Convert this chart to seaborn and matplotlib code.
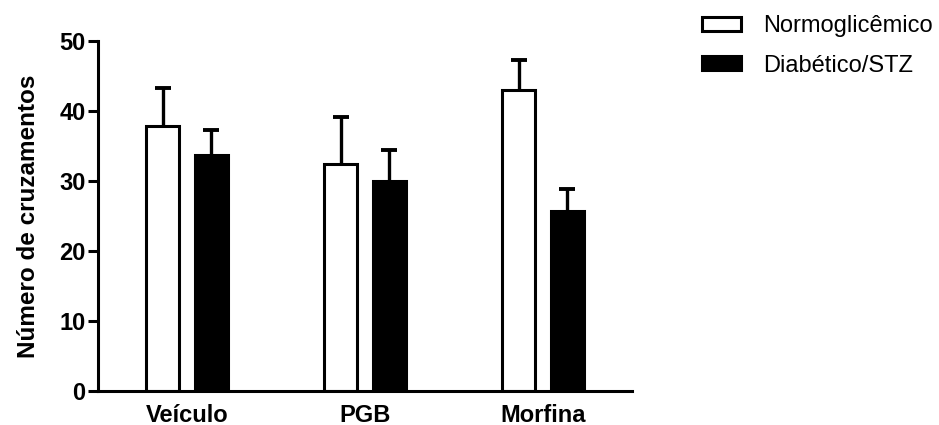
import matplotlib
matplotlib.use("Agg")
import matplotlib.pyplot as plt
import seaborn as sns
import pandas as pd

categories = ["Veículo", "PGB", "Morfina"]
groups = ["Normoglicêmico", "Diabético/STZ"]
normo_mean = [37.8, 32.4, 43.0]
normo_err = [5.5, 6.7, 4.3]
diab_mean = [33.7, 30.0, 25.7]
diab_err = [3.6, 4.4, 3.2]
y_ticks = [0, 10, 20, 30, 40, 50]

df = pd.DataFrame({
    "cat": categories * 2,
    "grupo": [groups[0]] * 3 + [groups[1]] * 3,
    "val": normo_mean + diab_mean,
})
errs = {groups[0]: normo_err, groups[1]: diab_err}

sns.set_style("ticks")
plt.rcParams["font.family"] = ["Liberation Sans", "DejaVu Sans"]
plt.rcParams["text.color"] = "black"
plt.rcParams["axes.labelcolor"] = "black"
plt.rcParams["xtick.color"] = "black"
plt.rcParams["ytick.color"] = "black"
plt.rcParams["axes.edgecolor"] = "black"

fig = plt.figure(figsize=(9.39, 4.25), dpi=100)
ax = fig.add_axes([98 / 939, 1 - 391 / 425, 534 / 939, 350 / 425])

sns.barplot(data=df, x="cat", y="val", hue="grupo", order=categories,
            hue_order=groups,
            palette={groups[0]: "white", groups[1]: "black"},
            edgecolor="black", linewidth=2.2, width=0.55, gap=0.32,
            errorbar=None, ax=ax, legend=True, saturation=1)

for cont, g in zip(ax.containers, groups):
    for bar, e in zip(cont, errs[g]):
        x = bar.get_x() + bar.get_width() / 2
        h = bar.get_height()
        ax.vlines(x, h, h + e, colors="black", linewidth=2.4, zorder=5)
        ax.plot([x], [h + e], marker="_", markersize=12, markeredgewidth=2.8,
                color="black", zorder=5, clip_on=False)

ax.set_xlim(-0.5, 2.5)
ax.set_ylim(0, 50)
ax.set_yticks(y_ticks)
ax.set_yticklabels([str(t) for t in y_ticks], fontsize=17, fontweight="bold")
ax.set_xticks(range(len(categories)))
ax.set_xticklabels(categories, fontsize=17, fontweight="bold")
ax.tick_params(axis="x", length=0, pad=9)
ax.tick_params(axis="y", length=7, width=2.2, pad=2)
ax.set_xlabel("")
ax.set_ylabel("Número de cruzamentos", fontsize=17.5, fontweight="bold", labelpad=14)
sns.despine(ax=ax)
for s in ["left", "bottom"]:
    ax.spines[s].set_linewidth(2.2)

handles, labels = ax.get_legend_handles_labels()
ax.get_legend().remove()
fig.legend(handles, labels, loc="upper left", bbox_to_anchor=(702 / 939, 1 - 15 / 425),
           frameon=False, fontsize=17, handlelength=1.65, handleheight=0.55,
           handletextpad=0.95, labelspacing=0.75, borderpad=0, borderaxespad=0)

fig.savefig("out.png", dpi=100)
